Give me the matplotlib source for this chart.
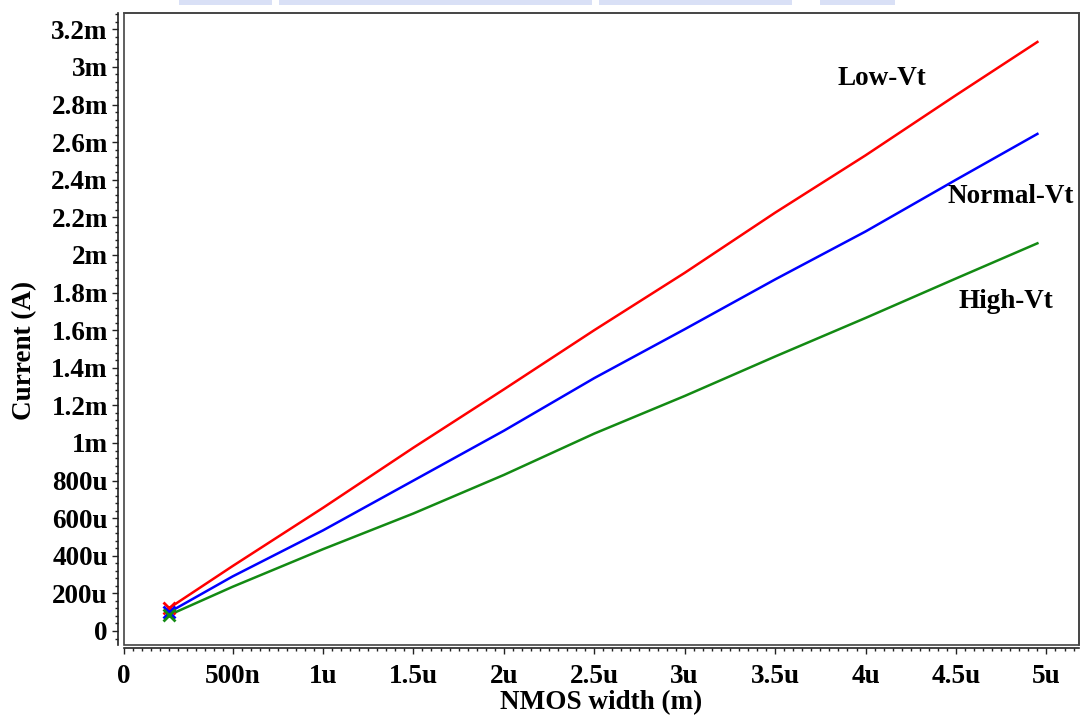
import numpy as np
import matplotlib.pyplot as plt
from matplotlib.patches import Rectangle
from matplotlib.ticker import FixedLocator, MultipleLocator

# NMOS width sweep (in um) and drain current (in mA)
width_um = [0.15, 0.5, 1.0, 1.5, 2.0, 2.5, 3.0, 3.5, 4.0, 4.5, 4.95]
low_vt = [0.122, 0.345, 0.655, 0.975, 1.285, 1.600, 1.905, 2.225, 2.530, 2.850, 3.133]
normal_vt = [0.100, 0.290, 0.535, 0.800, 1.065, 1.345, 1.605, 1.870, 2.125, 2.400, 2.644]
high_vt = [0.085, 0.235, 0.435, 0.625, 0.830, 1.050, 1.250, 1.460, 1.665, 1.875, 2.062]

x_ticks = [-0.1, 0.5, 1.0, 1.5, 2.0, 2.5, 3.0, 3.5, 4.0, 4.5, 5.0]
x_labels = ["0", "500n", "1u", "1.5u", "2u", "2.5u", "3u", "3.5u", "4u", "4.5u", "5u"]
y_ticks = [0, 0.2, 0.4, 0.6, 0.8, 1.0, 1.2, 1.4, 1.6, 1.8, 2.0, 2.2, 2.4, 2.6, 2.8, 3.0, 3.2]
y_labels = ["0", "200u", "400u", "600u", "800u", "1m", "1.2m", "1.4m", "1.6m",
            "1.8m", "2m", "2.2m", "2.4m", "2.6m", "2.8m", "3m", "3.2m"]

plt.rcParams["font.family"] = ["Liberation Serif", "DejaVu Serif"]
plt.rcParams["font.weight"] = "bold"
fs = 19.5

W, H = 1080, 718
fig = plt.figure(figsize=(W / 100, H / 100), dpi=100)
ax = fig.add_axes([124 / W, 1 - 645 / H, (1079 - 124) / W, (645 - 13) / H])

ax.plot(width_um, low_vt, color="#ff0000", lw=1.8)
ax.plot(width_um, normal_vt, color="#0000ff", lw=1.8)
ax.plot(width_um, high_vt, color="#138a13", lw=1.8)
ax.plot(width_um[0], low_vt[0], "x", color="#ff0000", ms=8, mew=2)
ax.plot(width_um[0], normal_vt[0], "x", color="#0000ff", ms=8, mew=2)
ax.plot(width_um[0], high_vt[0], "x", color="#138a13", ms=8, mew=2)

ax.set_xlim(-0.1, 5.18)
ax.set_ylim(-0.0745, 3.287)

# curve labels
ax.text(4.09, 2.94, "Low-Vt", fontsize=fs, fontweight="bold", ha="center", va="center")
ax.text(4.80, 2.31, "Normal-Vt", fontsize=fs, fontweight="bold", ha="center", va="center")
ax.text(4.775, 1.75, "High-Vt", fontsize=fs, fontweight="bold", ha="center", va="center")

# detached axis lines, plot frame drawn separately
ax.spines["left"].set_position(("outward", 4.3))
ax.spines["bottom"].set_position(("outward", 2.2))
for s in ["left", "bottom"]:
    ax.spines[s].set_linewidth(1.2)
    ax.spines[s].set_color("#222222")
for s in ["top", "right"]:
    ax.spines[s].set_linewidth(1.2)
    ax.spines[s].set_color("#444444")
ax.add_patch(Rectangle((0, 0), 1, 1, transform=ax.transAxes, fill=False,
                       edgecolor="#444444", lw=1.2, clip_on=False))

ax.xaxis.set_major_locator(FixedLocator(x_ticks))
ax.set_xticklabels(x_labels)
ax.xaxis.set_minor_locator(MultipleLocator(0.05))
ax.yaxis.set_major_locator(FixedLocator(y_ticks))
ax.set_yticklabels(y_labels)
ax.yaxis.set_minor_locator(MultipleLocator(0.04))

ax.tick_params(which="major", length=4.3, width=1.0, labelsize=fs, color="#222222")
ax.tick_params(which="minor", length=2.2, width=1.0, color="#222222")
ax.tick_params(axis="x", which="major", pad=7)
ax.tick_params(axis="y", which="major", pad=3)
for lab in ax.get_xticklabels() + ax.get_yticklabels():
    lab.set_fontweight("bold")

fig.text(601 / W, 1 - 703 / H, "NMOS width (m)", fontsize=fs, fontweight="bold",
         ha="center", va="center")
fig.text(25 / W, 1 - 350 / H, "Current (A)", fontsize=fs, fontweight="bold",
         ha="center", va="center", rotation=90)

# faint remnant of a cropped title at the very top
for x0, x1 in [(179, 272), (279, 592), (599, 792), (820, 895)]:
    fig.patches.append(Rectangle((x0 / W, 1 - 5 / H), (x1 - x0) / W, 5 / H,
                                 transform=fig.transFigure, color="#c9d4f3",
                                 lw=0, alpha=0.7))

fig.savefig("out.png", dpi=100)
plt.close(fig)
